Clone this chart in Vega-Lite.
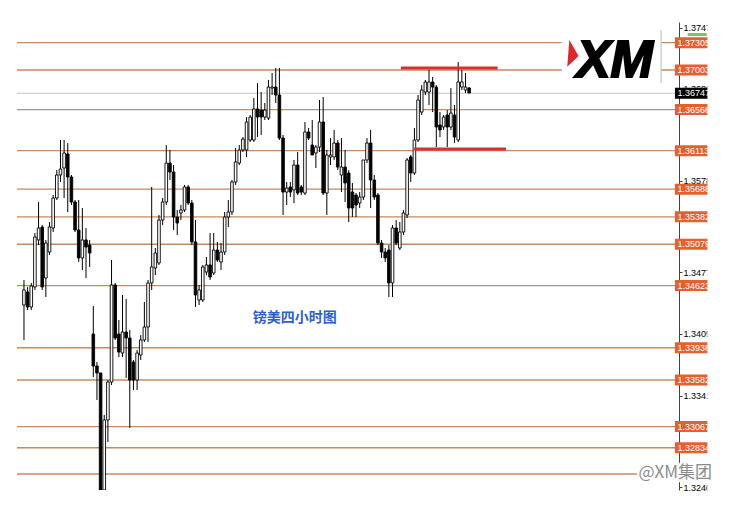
{
  "$schema": "https://vega.github.io/schema/vega-lite/v6.json",
  "autosize": {"type": "none"},
  "width": 662,
  "height": 468,
  "padding": {"left": 17, "top": 22, "right": 55, "bottom": 17},
  "background": "white",
  "config": {
    "view": {"stroke": null},
    "axis": {"grid": false},
    "axisX": {"disable": true},
    "axisY": {"tickSize": 3, "labelPadding": 1, "domainColor": "#444", "tickColor": "#444", "labelColor": "#000", "labelFont": "Liberation Sans", "labelFontSize": 9, "labelOverlap": false, "labelFlush": false, "labelBound": false, "labelBaseline": "middle"}
  },
  "datasets": {
    "candles": [
      {"t":0,"o":1.34409,"h":1.34685,"l":1.34023,"c":1.34575},
      {"t":1,"o":1.34553,"h":1.34608,"l":1.34354,"c":1.34387},
      {"t":2,"o":1.34387,"h":1.34652,"l":1.34354,"c":1.34619},
      {"t":3,"o":1.34608,"h":1.35204,"l":1.34575,"c":1.35160},
      {"t":4,"o":1.35127,"h":1.35546,"l":1.35071,"c":1.35259},
      {"t":5,"o":1.35270,"h":1.35292,"l":1.34575,"c":1.34608},
      {"t":6,"o":1.34707,"h":1.35127,"l":1.34497,"c":1.35093},
      {"t":7,"o":1.34994,"h":1.35325,"l":1.34961,"c":1.35270},
      {"t":8,"o":1.35259,"h":1.35623,"l":1.35215,"c":1.35590},
      {"t":9,"o":1.35590,"h":1.35899,"l":1.35568,"c":1.35844},
      {"t":10,"o":1.35844,"h":1.36230,"l":1.35767,"c":1.35910},
      {"t":11,"o":1.35921,"h":1.36230,"l":1.35590,"c":1.36087},
      {"t":12,"o":1.36076,"h":1.36197,"l":1.35436,"c":1.35822},
      {"t":13,"o":1.35822,"h":1.35844,"l":1.35513,"c":1.35546},
      {"t":14,"o":1.35546,"h":1.35568,"l":1.35215,"c":1.35237},
      {"t":15,"o":1.35237,"h":1.35568,"l":1.34884,"c":1.34928},
      {"t":16,"o":1.34928,"h":1.35480,"l":1.34795,"c":1.35127},
      {"t":17,"o":1.35127,"h":1.35259,"l":1.34707,"c":1.35049},
      {"t":18,"o":1.35071,"h":1.35127,"l":1.34829,"c":1.34983},
      {"t":19,"o":1.34089,"h":1.34398,"l":1.33614,"c":1.33736},
      {"t":20,"o":1.33736,"h":1.33780,"l":1.33361,"c":1.33659},
      {"t":21,"o":1.33659,"h":1.33659,"l":1.32312,"c":1.32367},
      {"t":22,"o":1.32367,"h":1.33195,"l":1.32312,"c":1.33140},
      {"t":23,"o":1.33140,"h":1.33581,"l":1.32897,"c":1.33559},
      {"t":24,"o":1.33559,"h":1.34906,"l":1.33526,"c":1.34630},
      {"t":25,"o":1.34630,"h":1.34652,"l":1.34023,"c":1.34045},
      {"t":26,"o":1.34089,"h":1.34244,"l":1.33835,"c":1.33890},
      {"t":27,"o":1.33879,"h":1.34520,"l":1.33835,"c":1.34111},
      {"t":28,"o":1.34111,"h":1.34475,"l":1.33603,"c":1.34045},
      {"t":29,"o":1.34045,"h":1.34133,"l":1.33052,"c":1.33581},
      {"t":30,"o":1.33780,"h":1.33802,"l":1.33471,"c":1.33581},
      {"t":31,"o":1.33581,"h":1.33913,"l":1.33471,"c":1.33879},
      {"t":32,"o":1.33857,"h":1.34078,"l":1.33802,"c":1.34023},
      {"t":33,"o":1.34023,"h":1.34442,"l":1.34001,"c":1.34166},
      {"t":34,"o":1.34166,"h":1.34685,"l":1.34001,"c":1.34652},
      {"t":35,"o":1.34652,"h":1.35712,"l":1.34575,"c":1.34829},
      {"t":36,"o":1.34818,"h":1.35038,"l":1.34740,"c":1.34983},
      {"t":37,"o":1.34873,"h":1.35403,"l":1.34851,"c":1.35347},
      {"t":38,"o":1.35347,"h":1.35590,"l":1.35292,"c":1.35546},
      {"t":39,"o":1.35546,"h":1.36175,"l":1.35513,"c":1.35976},
      {"t":40,"o":1.35976,"h":1.36120,"l":1.35789,"c":1.35877},
      {"t":41,"o":1.35877,"h":1.35954,"l":1.35237,"c":1.35380},
      {"t":42,"o":1.35380,"h":1.35458,"l":1.35182,"c":1.35314},
      {"t":43,"o":1.35425,"h":1.35513,"l":1.35347,"c":1.35458},
      {"t":44,"o":1.35458,"h":1.35734,"l":1.35436,"c":1.35712},
      {"t":45,"o":1.35712,"h":1.35734,"l":1.35513,"c":1.35535},
      {"t":46,"o":1.35535,"h":1.35568,"l":1.35071,"c":1.35105},
      {"t":47,"o":1.35105,"h":1.35347,"l":1.34387,"c":1.34520},
      {"t":48,"o":1.34464,"h":1.34630,"l":1.34409,"c":1.34575},
      {"t":49,"o":1.34464,"h":1.34851,"l":1.34442,"c":1.34829},
      {"t":50,"o":1.34773,"h":1.34939,"l":1.34740,"c":1.34851},
      {"t":51,"o":1.34851,"h":1.35204,"l":1.34685,"c":1.34718},
      {"t":52,"o":1.34762,"h":1.35204,"l":1.34740,"c":1.35016},
      {"t":53,"o":1.35016,"h":1.35105,"l":1.34884,"c":1.34906},
      {"t":54,"o":1.34884,"h":1.35093,"l":1.34795,"c":1.34994},
      {"t":55,"o":1.34994,"h":1.35436,"l":1.34961,"c":1.35380},
      {"t":56,"o":1.35380,"h":1.35568,"l":1.35270,"c":1.35436},
      {"t":57,"o":1.35436,"h":1.35789,"l":1.35403,"c":1.35767},
      {"t":58,"o":1.35767,"h":1.36142,"l":1.35734,"c":1.35988},
      {"t":59,"o":1.35976,"h":1.36175,"l":1.35954,"c":1.36120},
      {"t":60,"o":1.36120,"h":1.36263,"l":1.36098,"c":1.36241},
      {"t":61,"o":1.36120,"h":1.36484,"l":1.36043,"c":1.36429},
      {"t":62,"o":1.36230,"h":1.36506,"l":1.36208,"c":1.36484},
      {"t":63,"o":1.36230,"h":1.36694,"l":1.36208,"c":1.36573},
      {"t":64,"o":1.36573,"h":1.36859,"l":1.36263,"c":1.36484},
      {"t":65,"o":1.36561,"h":1.36760,"l":1.36286,"c":1.36484},
      {"t":66,"o":1.36484,"h":1.36639,"l":1.36451,"c":1.36561},
      {"t":67,"o":1.36473,"h":1.36893,"l":1.36451,"c":1.36815},
      {"t":68,"o":1.36804,"h":1.36970,"l":1.36727,"c":1.36815},
      {"t":69,"o":1.36815,"h":1.37025,"l":1.36639,"c":1.36727},
      {"t":70,"o":1.36727,"h":1.37025,"l":1.36230,"c":1.36252},
      {"t":71,"o":1.36252,"h":1.36286,"l":1.35403,"c":1.35656},
      {"t":72,"o":1.35656,"h":1.35767,"l":1.35513,"c":1.35700},
      {"t":73,"o":1.35712,"h":1.35767,"l":1.35601,"c":1.35656},
      {"t":74,"o":1.35679,"h":1.36010,"l":1.35535,"c":1.35954},
      {"t":75,"o":1.35954,"h":1.36098,"l":1.35623,"c":1.35645},
      {"t":76,"o":1.35712,"h":1.35734,"l":1.35623,"c":1.35656},
      {"t":77,"o":1.35645,"h":1.36429,"l":1.35623,"c":1.36319},
      {"t":78,"o":1.36319,"h":1.36363,"l":1.36230,"c":1.36252},
      {"t":79,"o":1.36175,"h":1.36451,"l":1.36065,"c":1.36065},
      {"t":80,"o":1.36087,"h":1.36175,"l":1.35921,"c":1.36153},
      {"t":81,"o":1.36153,"h":1.36672,"l":1.36098,"c":1.36429},
      {"t":82,"o":1.36429,"h":1.36705,"l":1.35623,"c":1.35645},
      {"t":83,"o":1.35645,"h":1.36120,"l":1.35403,"c":1.36065},
      {"t":84,"o":1.36043,"h":1.36252,"l":1.35954,"c":1.36065},
      {"t":85,"o":1.36043,"h":1.36341,"l":1.36010,"c":1.36197},
      {"t":86,"o":1.36197,"h":1.36230,"l":1.35899,"c":1.35932},
      {"t":87,"o":1.35844,"h":1.36252,"l":1.35656,"c":1.35932},
      {"t":88,"o":1.35932,"h":1.36120,"l":1.35546,"c":1.35756},
      {"t":89,"o":1.35866,"h":1.35899,"l":1.35325,"c":1.35480},
      {"t":90,"o":1.35656,"h":1.35756,"l":1.35380,"c":1.35480},
      {"t":91,"o":1.35623,"h":1.35645,"l":1.35380,"c":1.35513},
      {"t":92,"o":1.35535,"h":1.35656,"l":1.35480,"c":1.35601},
      {"t":93,"o":1.35601,"h":1.36010,"l":1.35568,"c":1.36010},
      {"t":94,"o":1.36010,"h":1.36252,"l":1.35976,"c":1.36197},
      {"t":95,"o":1.36197,"h":1.36341,"l":1.35480,"c":1.35789},
      {"t":96,"o":1.35789,"h":1.35844,"l":1.35568,"c":1.35601},
      {"t":97,"o":1.35623,"h":1.35645,"l":1.35071,"c":1.35093},
      {"t":98,"o":1.35093,"h":1.35127,"l":1.34928,"c":1.34994},
      {"t":99,"o":1.34994,"h":1.35038,"l":1.34884,"c":1.34928},
      {"t":100,"o":1.35016,"h":1.35071,"l":1.34497,"c":1.34652},
      {"t":101,"o":1.34652,"h":1.35292,"l":1.34497,"c":1.35259},
      {"t":102,"o":1.35259,"h":1.35347,"l":1.35071,"c":1.35093},
      {"t":103,"o":1.35038,"h":1.35325,"l":1.35016,"c":1.35215},
      {"t":104,"o":1.35215,"h":1.35458,"l":1.35182,"c":1.35425},
      {"t":105,"o":1.35403,"h":1.36032,"l":1.35369,"c":1.36010},
      {"t":106,"o":1.36043,"h":1.36065,"l":1.35767,"c":1.35866},
      {"t":107,"o":1.35866,"h":1.36363,"l":1.35844,"c":1.36230},
      {"t":108,"o":1.36230,"h":1.36727,"l":1.36208,"c":1.36672},
      {"t":109,"o":1.36539,"h":1.36837,"l":1.36506,"c":1.36782},
      {"t":110,"o":1.36760,"h":1.36893,"l":1.36727,"c":1.36871},
      {"t":111,"o":1.36760,"h":1.37003,"l":1.36617,"c":1.36871},
      {"t":112,"o":1.36871,"h":1.36926,"l":1.36539,"c":1.36815},
      {"t":113,"o":1.36815,"h":1.36837,"l":1.36153,"c":1.36374},
      {"t":114,"o":1.36396,"h":1.36539,"l":1.36263,"c":1.36341},
      {"t":115,"o":1.36374,"h":1.36506,"l":1.36341,"c":1.36484},
      {"t":116,"o":1.36506,"h":1.36561,"l":1.36153,"c":1.36374},
      {"t":117,"o":1.36374,"h":1.36804,"l":1.36341,"c":1.36528},
      {"t":118,"o":1.36506,"h":1.36617,"l":1.36197,"c":1.36263},
      {"t":119,"o":1.36230,"h":1.37091,"l":1.36208,"c":1.36871},
      {"t":120,"o":1.36815,"h":1.37003,"l":1.36782,"c":1.36871},
      {"t":121,"o":1.36782,"h":1.36970,"l":1.36749,"c":1.36815},
      {"t":122,"o":1.36804,"h":1.36815,"l":1.36749,"c":1.36749}
    ],
    "levels": [
      {"p":1.37305},{"p":1.37003},{"p":1.36566},{"p":1.36113},{"p":1.35688},{"p":1.35382},{"p":1.35079},
      {"p":1.34623},{"p":1.33938},{"p":1.33582},{"p":1.33067},{"p":1.32834},{"p":1.32544}
    ],
    "current": [{"p":1.36747}],
    "trend": [
      {"t1":103.3,"t2":129.8,"p":1.37025},
      {"t1":106.9,"t2":132.1,"p":1.36131}
    ]
  },
  "layer": [
    {
      "data": {"name": "levels"},
      "mark": {"type": "rule", "color": "#c48a63", "strokeWidth": 1.4},
      "encoding": {
        "y": {"field": "p", "type": "quantitative", "title": null, "scale": {"domain": [1.32367, 1.37533], "nice": false, "zero": false},
          "axis": {"orient": "right", "title": null, "grid": false, "values": [1.3747, 1.3714, 1.368, 1.3646, 1.3578, 1.3544, 1.3477, 1.3443, 1.3409, 1.3375, 1.3341, 1.3274, 1.324], "format": ".5f"}}
      }
    },
    {
      "data": {"name": "current"},
      "mark": {"type": "rule", "color": "#c4c4c4", "strokeWidth": 1},
      "encoding": {"y": {"field": "p", "type": "quantitative", "title": null, "axis": {"orient": "right"}}}
    },
    {
      "data": {"name": "candles"},
      "mark": {"type": "rule", "color": "#000", "strokeWidth": 1, "clip": true},
      "encoding": {
        "x": {"field": "t", "type": "quantitative", "title": null, "scale": {"domain": [-0.54, 178.14], "nice": false, "zero": false}},
        "y": {"field": "l", "type": "quantitative", "title": null, "axis": {"orient": "right"}},
        "y2": {"field": "h"}
      }
    },
    {
      "data": {"name": "candles"},
      "mark": {"type": "bar", "width": 2.6, "stroke": "#000", "strokeWidth": 0.9, "clip": true},
      "encoding": {
        "x": {"field": "t", "type": "quantitative", "title": null},
        "y": {"field": "o", "type": "quantitative", "title": null, "axis": {"orient": "right"}},
        "y2": {"field": "c"},
        "fill": {"condition": {"test": "datum.c > datum.o", "value": "#ffffff"}, "value": "#000000"}
      }
    },
    {
      "data": {"name": "trend"},
      "mark": {"type": "rule", "color": "#d8302c", "strokeWidth": 3},
      "encoding": {
        "x": {"field": "t1", "type": "quantitative", "title": null},
        "x2": {"field": "t2"},
        "y": {"field": "p", "type": "quantitative", "title": null, "axis": {"orient": "right"}}
      }
    },
    {
      "data": {"values": [{"label": "镑美四小时图", "t": 74.2, "p": 1.34266}]},
      "mark": {"type": "text", "font": "Noto Sans CJK SC", "fontSize": 14, "fontWeight": "bold", "color": "#2f5fcf", "align": "center", "baseline": "middle"},
      "encoding": {
        "x": {"field": "t", "type": "quantitative", "title": null},
        "y": {"field": "p", "type": "quantitative", "title": null, "axis": {"orient": "right"}},
        "text": {"field": "label"}
      }
    },
    {
      "data": {"values": [{}]},
      "mark": {"type": "rect", "fill": "#ffffff"},
      "encoding": {
        "x": {"datum": 147.4},
        "x2": {"datum": 174.6},
        "y": {"datum": 1.37445, "axis": {"orient": "right"}},
        "y2": {"datum": 1.3686}
      }
    },
    {
      "data": {"values": [{}]},
      "mark": {"type": "rule", "color": "#bbbbbb", "strokeWidth": 1},
      "encoding": {
        "x": {"datum": 174.6},
        "y": {"datum": 1.37445, "axis": {"orient": "right"}},
        "y2": {"datum": 1.3686}
      }
    },
    {
      "data": {"values": [{}]},
      "mark": {"type": "point", "shape": "M-0.16,-1L0.5,0.14L-0.31,0.91Z", "size": 784, "filled": true, "color": "#e0262b", "opacity": 1},
      "encoding": {
        "x": {"datum": 150.07},
        "y": {"datum": 1.3718, "axis": {"orient": "right"}}
      }
    },
    {
      "data": {"values": [{"label": "XM"}]},
      "mark": {"type": "text", "font": "Liberation Sans", "fontSize": 51, "fontWeight": "bold", "fontStyle": "italic", "color": "#000", "stroke": "#000", "strokeWidth": 2, "align": "left", "baseline": "alphabetic"},
      "encoding": {
        "x": {"datum": 151.4},
        "y": {"datum": 1.36926, "axis": {"orient": "right"}},
        "text": {"field": "label"}
      }
    },
    {
      "data": {"name": "levels"},
      "transform": [{"filter": "datum.p > 1.327"}],
      "mark": {"type": "point", "shape": "M0,-1H6.18V1H0Z", "size": 121, "filled": true, "color": "#e4602d", "opacity": 1},
      "encoding": {
        "x": {"datum": 178.4},
        "y": {"field": "p", "type": "quantitative", "title": null, "axis": {"orient": "right"}}
      }
    },
    {
      "data": {"name": "levels"},
      "transform": [{"filter": "datum.p > 1.327"}],
      "mark": {"type": "text", "font": "Liberation Sans", "fontSize": 9, "color": "#ffffff", "align": "left", "baseline": "middle"},
      "encoding": {
        "x": {"datum": 179.1},
        "y": {"field": "p", "type": "quantitative", "title": null, "axis": {"orient": "right"}},
        "text": {"field": "p", "type": "quantitative", "format": ".5f"}
      }
    },
    {
      "data": {"name": "current"},
      "mark": {"type": "point", "shape": "M0,-1H6.18V1H0Z", "size": 121, "filled": true, "color": "#000000", "opacity": 1},
      "encoding": {
        "x": {"datum": 178.4},
        "y": {"field": "p", "type": "quantitative", "title": null, "axis": {"orient": "right"}}
      }
    },
    {
      "data": {"name": "current"},
      "mark": {"type": "text", "font": "Liberation Sans", "fontSize": 9, "color": "#ffffff", "align": "left", "baseline": "middle"},
      "encoding": {
        "x": {"datum": 179.1},
        "y": {"field": "p", "type": "quantitative", "title": null, "axis": {"orient": "right"}},
        "text": {"field": "p", "type": "quantitative", "format": ".5f"}
      }
    },
    {
      "data": {"values": [{}]},
      "mark": {"type": "point", "shape": "M0,-1H12.67V1H0Z", "size": 9, "filled": true, "color": "#7cc46a", "opacity": 1},
      "encoding": {
        "x": {"datum": 181.9},
        "y": {"datum": 1.37395, "axis": {"orient": "right"}}
      }
    },
    {
      "data": {"values": [{}]},
      "mark": {"type": "rect", "fill": "#ffffff"},
      "encoding": {
        "x": {"datum": 187.3},
        "x2": {"datum": 200},
        "y": {"datum": 1.3775, "axis": {"orient": "right"}},
        "y2": {"datum": 1.322}
      }
    },
    {
      "data": {"values": [{"label": "@XM集团"}]},
      "mark": {"type": "text", "font": "Noto Sans CJK SC", "fontSize": 17, "color": "#ffffff", "stroke": "#ffffff", "strokeWidth": 5, "align": "left", "baseline": "middle"},
      "encoding": {
        "x": {"datum": 168.4},
        "y": {"datum": 1.32555, "axis": {"orient": "right"}},
        "text": {"field": "label"}
      }
    },
    {
      "data": {"values": [{"label": "@XM集团"}]},
      "mark": {"type": "text", "font": "Noto Sans CJK SC", "fontSize": 17, "color": "#8c8c8c", "align": "left", "baseline": "middle"},
      "encoding": {
        "x": {"datum": 168.4},
        "y": {"datum": 1.32555, "axis": {"orient": "right"}},
        "text": {"field": "label"}
      }
    }
  ]
}
